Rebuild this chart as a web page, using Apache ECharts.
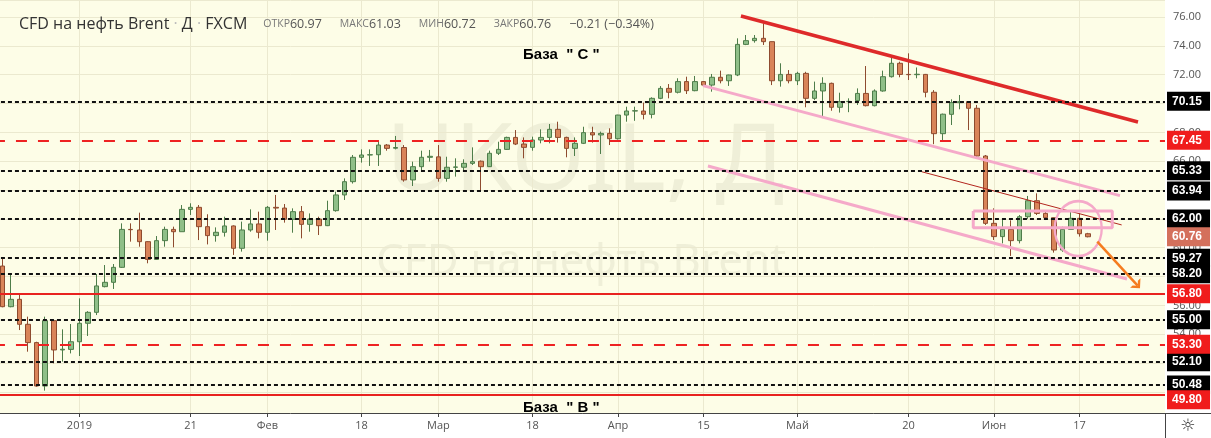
<!DOCTYPE html>
<html><head><meta charset="utf-8">
<script src="https://cdn.jsdelivr.net/npm/echarts@6/dist/echarts.min.js"></script>
<style>html,body{margin:0;padding:0;background:#fff;overflow:hidden}#c{width:1211px;height:438px}</style>
</head><body><div id="c"></div>
<script>
// ---- categories (trading days; first slot is an empty pad, last slots are future) ----
const dates = ['2018-12-17',
'2018-12-18','2018-12-19','2018-12-20','2018-12-21','2018-12-24','2018-12-26','2018-12-27','2018-12-28','2018-12-31',
'2019-01-02','2019-01-03','2019-01-04','2019-01-07','2019-01-08','2019-01-09','2019-01-10','2019-01-11','2019-01-14','2019-01-15','2019-01-16','2019-01-17','2019-01-18','2019-01-21','2019-01-22','2019-01-23','2019-01-24','2019-01-25','2019-01-28','2019-01-29','2019-01-30','2019-01-31',
'2019-02-01','2019-02-04','2019-02-05','2019-02-06','2019-02-07','2019-02-08','2019-02-11','2019-02-12','2019-02-13','2019-02-14','2019-02-15','2019-02-18','2019-02-19','2019-02-20','2019-02-21','2019-02-22','2019-02-25','2019-02-26','2019-02-27','2019-02-28',
'2019-03-01','2019-03-04','2019-03-05','2019-03-06','2019-03-07','2019-03-08','2019-03-11','2019-03-12','2019-03-13','2019-03-14','2019-03-15','2019-03-18','2019-03-19','2019-03-20','2019-03-21','2019-03-22','2019-03-25','2019-03-26','2019-03-27','2019-03-28','2019-03-29',
'2019-04-01','2019-04-02','2019-04-03','2019-04-04','2019-04-05','2019-04-08','2019-04-09','2019-04-10','2019-04-11','2019-04-12','2019-04-15','2019-04-16','2019-04-17','2019-04-18','2019-04-22','2019-04-23','2019-04-24','2019-04-25','2019-04-26','2019-04-29','2019-04-30',
'2019-05-01','2019-05-02','2019-05-03','2019-05-06','2019-05-07','2019-05-08','2019-05-09','2019-05-10','2019-05-13','2019-05-14','2019-05-15','2019-05-16','2019-05-17','2019-05-20','2019-05-21','2019-05-22','2019-05-23','2019-05-24','2019-05-27','2019-05-28','2019-05-29','2019-05-30','2019-05-31',
'2019-06-03','2019-06-04','2019-06-05','2019-06-06','2019-06-07','2019-06-10','2019-06-11','2019-06-12','2019-06-13','2019-06-14','2019-06-17','2019-06-18',
'2019-06-19','2019-06-20','2019-06-21','2019-06-24','2019-06-25','2019-06-26','2019-06-27','2019-06-28','2019-07-01'];

// ---- tick labels ----
const tickDates = ['2019-01-02','2019-01-21','2019-02-01','2019-02-18','2019-03-01','2019-03-18','2019-04-01','2019-04-15','2019-05-01','2019-05-20','2019-06-03','2019-06-17'];
const tickTexts = ['2019','21','Фев','18','Мар','18','Апр','15','Май','20','Июн','17'];

// ---- OHLC (bars from 2018-12-18 to 2019-06-18) ----
const opens = [58.73,55.91,56.42,54.69,53.42,50.41,54.94,52.91,52.95,53.48,
54.76,55.52,57.30,57.60,58.64,61.27,61.23,60.42,59.19,60.49,
61.27,61.11,62.66,62.80,61.46,60.84,61.07,61.51,59.96,61.23,
61.65,61.07,62.80,62.75,61.97,62.50,61.62,61.99,61.53,62.57,
63.66,64.58,66.27,66.43,66.45,67.12,66.90,66.95,64.70,65.62,
66.27,66.30,64.81,65.58,65.58,65.85,66.00,65.62,66.55,66.82,
67.65,67.19,66.96,67.47,67.65,68.21,67.65,66.89,67.24,67.98,
67.82,67.93,67.56,69.20,69.48,69.48,69.25,70.36,71.05,70.78,
71.52,70.89,71.52,71.28,71.82,71.58,71.98,74.10,74.36,74.52,
74.29,71.58,72.02,71.58,72.09,70.36,70.87,71.40,69.74,70.13,
70.20,70.70,69.85,70.87,71.86,72.79,72.02,72.00,72.02,70.78,
67.91,69.25,70.06,70.13,69.67,66.36,61.69,60.77,61.27,60.49,
62.15,63.26,62.38,62.08,59.84,61.27,62.04,60.97];
const closes = [55.91,56.42,54.69,53.42,50.41,54.94,52.91,52.96,53.48,54.76,
55.52,57.35,57.60,58.64,61.27,61.25,60.42,59.19,60.49,61.27,
61.11,62.66,62.80,61.46,60.84,61.07,61.51,59.96,61.23,61.65,
61.07,62.80,62.75,61.97,62.50,61.62,61.99,61.53,62.57,63.66,
64.58,66.27,66.43,66.45,67.12,66.89,66.95,64.70,65.62,66.27,
66.34,64.81,65.58,65.60,65.85,65.97,65.62,66.55,66.82,67.65,
67.19,66.96,67.47,67.65,68.21,67.65,66.89,67.24,67.98,67.82,
67.93,67.56,69.20,69.48,69.50,69.25,70.36,71.05,70.78,71.52,
70.89,71.52,71.28,71.82,71.58,71.98,74.10,74.36,74.52,74.29,
71.58,72.02,71.58,72.09,70.36,70.87,71.40,69.74,70.13,70.15,
70.70,69.85,70.87,71.86,72.79,72.02,72.00,72.03,70.78,67.91,
69.26,70.06,70.13,69.67,66.36,61.69,60.77,61.27,60.49,62.15,
63.26,62.38,62.08,59.84,61.27,62.04,60.97,60.76];
const lows = [55.87,55.87,54.29,52.79,50.36,50.09,51.98,52.10,52.67,52.49,
53.88,55.33,57.25,57.14,58.60,60.42,60.07,58.92,59.15,60.07,
60.03,61.11,62.27,60.53,60.23,60.42,60.77,59.50,59.73,61.11,
60.65,60.49,61.23,61.74,61.04,60.65,61.11,60.88,61.50,62.50,
63.31,64.45,65.90,65.67,65.67,66.73,66.82,64.58,64.28,65.27,
65.97,64.58,64.58,64.93,65.27,65.74,63.96,65.60,66.43,66.78,
67.12,66.20,66.73,67.24,67.24,67.29,66.27,66.36,67.19,67.29,
66.50,67.12,67.50,68.74,68.80,68.90,68.97,70.30,70.36,70.70,
70.66,70.85,71.17,70.82,71.40,71.22,71.90,74.05,74.22,74.06,
71.28,71.17,71.40,71.28,69.74,70.24,69.09,69.50,69.37,69.40,
69.90,69.80,69.80,70.82,71.80,71.82,71.63,71.75,70.43,67.18,
67.40,68.51,69.60,68.16,66.30,61.58,60.54,60.30,59.43,60.30,
62.00,62.27,61.92,59.66,59.72,61.27,60.77,60.72];
const highs = [59.26,58.11,56.72,55.22,53.48,55.22,54.96,54.34,54.71,56.49,
55.60,58.18,58.80,58.87,61.69,61.69,62.43,60.45,60.81,61.46,
61.46,62.96,63.08,62.96,62.32,61.41,62.15,61.55,61.81,62.66,
62.50,62.89,63.66,63.03,62.73,62.89,62.38,62.15,63.26,63.89,
64.81,66.43,66.82,66.82,67.42,67.19,67.75,67.12,65.97,66.73,
66.78,67.12,66.31,66.20,66.13,66.96,66.05,66.73,67.35,67.70,
68.16,67.65,67.70,68.21,68.58,68.74,67.70,67.65,68.39,68.39,
68.05,68.28,69.22,69.78,69.78,70.06,70.43,71.21,71.35,71.75,
71.86,71.91,71.55,72.05,72.28,72.00,74.52,74.75,74.75,75.56,
74.30,72.79,72.32,72.20,72.20,71.52,71.82,71.45,70.75,70.36,
71.05,72.60,70.98,72.28,73.20,72.90,73.48,72.50,72.05,70.93,
69.30,70.29,70.59,70.15,69.90,66.43,62.73,61.92,61.90,62.27,
63.59,63.77,62.50,62.10,61.46,62.50,62.38,61.03];

// ---- horizontal levels ----
const blackLevels = [70.15, 65.33, 63.94, 62.00, 59.27, 58.20, 55.00, 52.10, 50.48];
const redDashLevels = [67.45, 53.30];
const redSolidLevels = [56.80, 49.80];

// ---- drawings, in (slot index, price) ----
const resistanceLine = [[87.39, 76.07], [133.84, 68.72]];
const channelUpper = [[82.95, 71.24], [131.73, 63.61]];
const channelLower = [[83.53, 65.67], [132.55, 57.83]];
const thinTrend = [[108.53, 65.27], [131.93, 61.58]];
const boxCorners = [[114.57, 62.55], [130.83, 61.39]];
const circleCenter = [126.85, 61.33];
const arrowLine = [[129.08, 60.42], [133.80, 57.37]];

// ---- y range ----
const yMin = 48.538, yMax = 77.179;

const n = opens.length;
const candleData = [['-', '-', '-', '-']];
for (let i = 0; i < n; i++) candleData.push([opens[i], closes[i], lows[i], highs[i]]);
const lastO = opens[n-1], lastC = closes[n-1], lastL = lows[n-1], lastH = highs[n-1];
const chg = lastC - opens[n-1];
const fmt = v => v.toFixed(2);
const sgn = v => (v < 0 ? '\u2212' : '') + Math.abs(v).toFixed(2);

const tickSet = {};
tickDates.forEach((d, i) => tickSet[d] = tickTexts[i]);
const showTick = (idx, val) => tickSet[val] !== undefined;

const lvlLabel = (bg, extra) => Object.assign({show: true, position: 'end', distance: 2, formatter: p => fmt(p.value),
  backgroundColor: bg, color: '#fff', fontWeight: 'bold', fontSize: 12, fontFamily: 'Liberation Sans',
  padding: [3, 8, 3, 5], lineHeight: 13, borderRadius: 0}, extra || {});
const mlData = [];
blackLevels.forEach(v => mlData.push({yAxis: v, lineStyle: {color: '#111', width: 2, type: [4, 3]}, label: lvlLabel('#000')}));
redDashLevels.forEach(v => mlData.push({yAxis: v, lineStyle: {color: '#ee2222', width: 2, type: [11, 11]}, label: lvlLabel('#f01c1c')}));
redSolidLevels.forEach((v, k) => mlData.push({yAxis: v, lineStyle: {color: '#e8221f', width: 2, type: 'solid'},
  label: lvlLabel('#f01c1c', k === redSolidLevels.length - 1 ? {offset: [0, 5]} : {})}));
mlData.push({yAxis: lastC, lineStyle: {color: 'rgba(0,0,0,0)', width: 1}, label: lvlLabel('#d4705c')});

const pink = '#f5a9c9';
const lineSeries = (pts, color, width) => ({type: 'line', xAxisIndex: 1, yAxisIndex: 0, data: pts, symbol: 'none',
  silent: true, z: 4, lineStyle: {color, width}, animation: false});

const b = boxCorners;
const chart = echarts.init(document.getElementById('c'), null, {renderer: 'canvas'});
chart.setOption({
  animation: false,
  backgroundColor: '#fdfde7',
  title: {
    left: 14, top: 11,
    text: '{n|CFD на нефть Brent}{d| · }{n|Д}{d| · }{n|FXCM}{g| }{l|ОТКР}{v|' + fmt(lastO) + '}{s| }{l|МАКС}{v|' + fmt(lastH) +
      '}{s| }{l|МИН}{v|' + fmt(lastL) + '}{s| }{l|ЗАКР}{v|' + fmt(lastC) + '}{s| }{v|' + sgn(chg) + ' (' + sgn(chg / lastO * 100) + '%)}',
    textStyle: {
      fontFamily: 'Open Sans', fontSize: 16, color: '#333', fontWeight: 'normal',
      rich: {
        n: {fontFamily: 'Open Sans', fontSize: 16, color: '#333'},
        d: {fontFamily: 'Open Sans', fontSize: 16, color: '#bbb'},
        g: {fontSize: 12, width: 16},
        s: {fontSize: 12, width: 18},
        l: {fontFamily: 'Open Sans', fontSize: 10.5, color: '#777'},
        v: {fontFamily: 'Open Sans', fontSize: 12.5, color: '#555'}
      }
    }
  },
  grid: {left: -6.048, right: 46, top: 0, bottom: 25, containLabel: false, outerBoundsMode: 'none'},
  xAxis: [{
    type: 'category', data: dates, boundaryGap: false,
    axisLine: {show: true, lineStyle: {color: '#444', width: 1}},
    axisTick: {show: true, interval: showTick, length: 4, lineStyle: {color: '#444'}},
    axisLabel: {interval: showTick, formatter: v => tickSet[v] || '', color: '#555', fontSize: 11, fontFamily: 'Open Sans', margin: 7},
    splitLine: {show: true, interval: showTick, lineStyle: {color: '#ebe9cf', width: 1}}
  }, {
    type: 'value', min: 0, max: dates.length - 1, show: false
  }],
  yAxis: {
    type: 'value', position: 'right', min: yMin, max: yMax, splitNumber: 14, scale: true,
    axisLine: {show: true, lineStyle: {color: '#444', width: 1}},
    axisTick: {show: true, length: 4, lineStyle: {color: '#444'}},
    axisLabel: {formatter: v => fmt(v), color: '#555', fontSize: 11, fontFamily: 'Open Sans', margin: 8, showMinLabel: false, showMaxLabel: false},
    splitLine: {show: true, lineStyle: {color: '#ebe9cf', width: 1}}
  },
  series: [
    {
      type: 'candlestick', xAxisIndex: 0, yAxisIndex: 0, data: candleData, barWidth: 5, clip: false, z: 3,
      itemStyle: {color: '#8fbf88', color0: '#d98459', borderColor: '#4e7d4a', borderColor0: '#8e4b2f', borderColorDoji: '#6a6a4a', borderWidth: 1},
      markLine: {silent: true, symbol: ['none', 'none'], animation: false, z: 5, data: mlData}
    },
    lineSeries(resistanceLine, '#de2a2a', 3.5),
    lineSeries(channelUpper, pink, 3),
    lineSeries(channelLower, pink, 3),
    lineSeries(thinTrend, '#b3261e', 1),
    lineSeries([[b[0][0], b[0][1]], [b[1][0], b[0][1]], [b[1][0], b[1][1]], [b[0][0], b[1][1]], [b[0][0], b[0][1]]], pink, 3),
    {type: 'scatter', xAxisIndex: 1, yAxisIndex: 0, data: [circleCenter], symbol: 'circle', symbolSize: [47, 55], silent: true, z: 4,
      itemStyle: {color: 'rgba(0,0,0,0)', borderColor: pink, borderWidth: 2.5, opacity: 1}},
    {type: 'line', xAxisIndex: 1, yAxisIndex: 0, data: [], symbol: 'none', silent: true, z: 4,
      markLine: {silent: true, animation: false, symbol: ['none', 'path://M0,6 L6,0 L12,6 L9.03,6 L6,2.97 L2.97,6 Z'], symbolSize: [14, 7],
        lineStyle: {color: '#f57c1f', width: 2.5, type: 'solid'}, label: {show: false},
        data: [[{coord: arrowLine[0]}, {coord: arrowLine[1]}]]}}
  ],
  graphic: [
    {type: 'rect', shape: {x: 1165, y: 0, width: 46, height: 438}, style: {fill: '#fff'}, z: -10, silent: true},
    {type: 'rect', shape: {x: 0, y: 413, width: 1211, height: 25}, style: {fill: '#fff'}, z: -10, silent: true},
    {type: 'line', shape: {x1: 1165.5, y1: 413, x2: 1165.5, y2: 438}, style: {stroke: '#444', lineWidth: 1}, silent: true},
    {type: 'line', shape: {x1: 1165, y1: 413.5, x2: 1211, y2: 413.5}, style: {stroke: '#444', lineWidth: 1}, silent: true},
    {type: 'text', x: 1188, y: 427, silent: true, style: {text: '\u263C', font: '17px "DejaVu Sans"', fill: '#333', align: 'center', verticalAlign: 'middle', textAlign: 'center', textVerticalAlign: 'middle'}},
    {type: 'text', x: 585, y: 163, silent: true, z: -5, style: {text: 'UKOIL, Д', font: '94px "Noto Sans"', fill: 'rgba(120,120,90,0.10)', align: 'center', verticalAlign: 'middle', textAlign: 'center', textVerticalAlign: 'middle'}},
    {type: 'text', x: 581, y: 262, silent: true, z: -5, style: {text: 'CFD на нефть Brent', font: '44px "Noto Sans"', fill: 'rgba(120,120,90,0.10)', align: 'center', verticalAlign: 'middle', textAlign: 'center', textVerticalAlign: 'middle'}},
    {type: 'text', x: 523, y: 55, silent: true, z: 10, style: {text: 'База  " С "', font: 'bold 15px "Liberation Sans"', fill: '#000', verticalAlign: 'middle', textVerticalAlign: 'middle'}},
    {type: 'text', x: 523, y: 408, silent: true, z: 10, style: {text: 'База  " В "', font: 'bold 15px "Liberation Sans"', fill: '#000', verticalAlign: 'middle', textVerticalAlign: 'middle'}}
  ]
});
</script></body></html>
